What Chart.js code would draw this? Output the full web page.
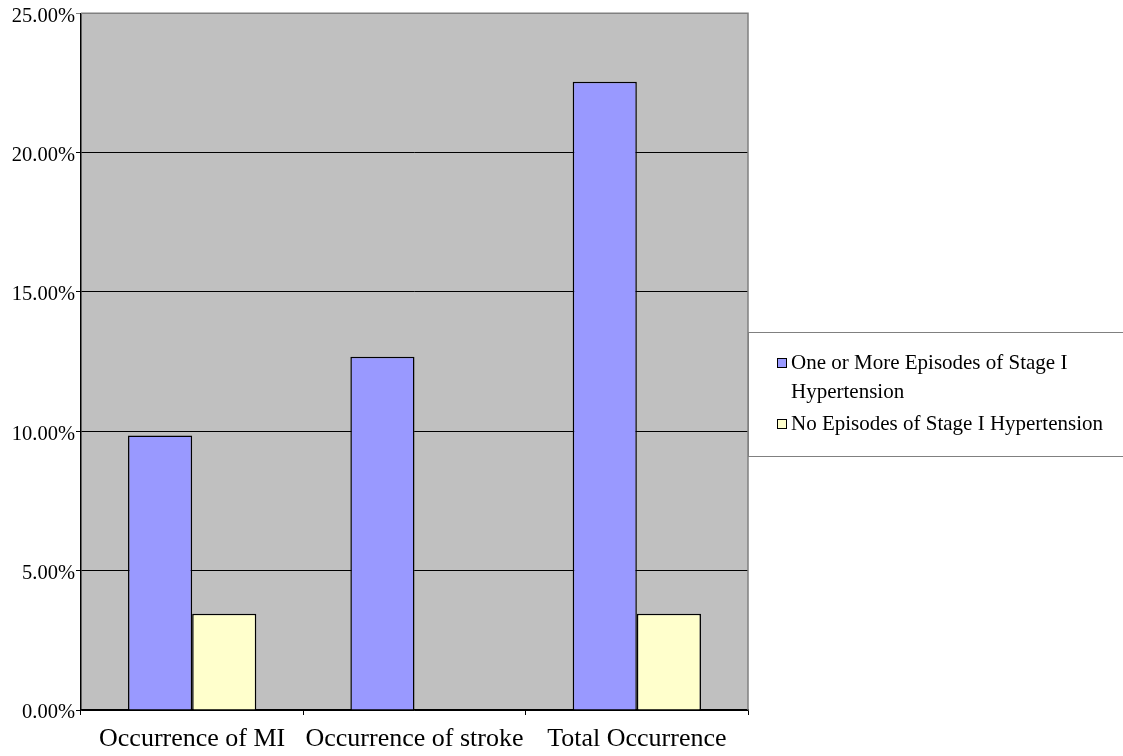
<!DOCTYPE html>
<html>
<head>
<meta charset="utf-8">
<script src="https://cdn.jsdelivr.net/npm/chart.js@4"></script>
<style>
  body { margin: 0; background: #fff; }
  #wrap { position: relative; width: 1123px; height: 756px; }
  #legend {
    position: absolute; left: 748px; top: 332px; width: 375px; height: 125px;
    border: 1px solid #808080; border-right: none; box-sizing: border-box;
    font-family: "Liberation Serif", "Times New Roman", serif; font-size: 21px; color: #000;
    padding-top: 15px;
  }
  .item { position: relative; padding-left: 42px; width: 325px; line-height: 29px; margin-bottom: 3px; }
  .box { position: absolute; left: 28px; top: 10px; width: 8px; height: 8px; border: 1px solid #000; }
</style>
</head>
<body>
<div id="wrap">
  <canvas id="chart"></canvas>
  <div id="legend"></div>
</div>
<script>
// chart data
const categories = ['Occurrence of MI', 'Occurrence of stroke', 'Total Occurrence'];
const seriesNames = ['One or More Episodes of Stage I Hypertension', 'No Episodes of Stage I Hypertension'];
const withEpisodes = [9.85, 12.68, 22.54];
const noEpisodes = [3.45, null, 3.45];
const yTicks = [0, 5, 10, 15, 20, 25];

const serif = '"Liberation Serif", "Times New Roman", serif';

// gray plot area + gray top/right border
const plotBg = {
    id: 'plotBg',
    beforeDraw(chart) {
        const { ctx, chartArea: a } = chart;
        ctx.save();
        ctx.fillStyle = '#C0C0C0';
        ctx.fillRect(a.left, a.top, a.right - a.left, a.bottom - a.top);
        ctx.restore();
    },
    afterDatasetsDraw(chart) {
        const { ctx, chartArea: a } = chart;
        ctx.save();
        ctx.strokeStyle = '#808080';
        ctx.lineWidth = 1.5;
        ctx.beginPath();
        ctx.moveTo(a.left, a.top);
        ctx.lineTo(a.right, a.top);
        ctx.lineTo(a.right, a.bottom);
        ctx.stroke();
        ctx.restore();
    }
};

const chart = new Chart(document.getElementById('chart'), {
    type: 'bar',
    data: {
        labels: categories,
        datasets: [{
            label: seriesNames[0],
            data: withEpisodes,
            backgroundColor: '#9999FF',
            borderColor: '#000',
            borderWidth: 1.5
        }, {
            label: seriesNames[1],
            data: noEpisodes,
            backgroundColor: '#FFFFCC',
            borderColor: '#000',
            borderWidth: 1.5
        }]
    },
    options: {
        responsive: true,
        maintainAspectRatio: false,
        animation: false,
        layout: { padding: { top: 12, right: 375, left: 0, bottom: 0 } },
        plugins: { legend: { display: false }, tooltip: { enabled: false } },
        datasets: { bar: { categoryPercentage: 0.577, barPercentage: 1 } },
        scales: {
            x: {
                grid: { display: true, drawOnChartArea: false, color: '#000', tickLength: 5, offset: true },
                border: { color: '#000', width: 1.5 },
                ticks: {
                    color: '#000', font: { family: serif, size: 26 }, padding: 9,
                    maxRotation: 0, autoSkip: false
                },
                afterFit(scale) { scale.height = 46; }
            },
            y: {
                min: 0,
                max: 25,
                afterBuildTicks(scale) { scale.ticks = yTicks.map(v => ({ value: v })); },
                grid: {
                    color: c => c.tick && c.tick.value === 25 ? '#808080' : '#000',
                    lineWidth: 1,
                    tickLength: 5
                },
                border: { color: '#000', width: 1.5 },
                ticks: {
                    color: '#000',
                    font: { family: serif, size: 20.5 },
                    padding: 1,
                    labelOffset: 3,
                    callback: v => v.toFixed(2) + '%'
                },
                afterFit(scale) { scale.width = 81; }
            }
        }
    },
    plugins: [plotBg]
});

// legend as html so the long label wraps like the original
const legend = document.getElementById('legend');
chart.data.datasets.forEach(ds => {
    const item = document.createElement('div');
    item.className = 'item';
    const box = document.createElement('span');
    box.className = 'box';
    box.style.background = ds.backgroundColor;
    item.appendChild(box);
    item.appendChild(document.createTextNode(ds.label));
    legend.appendChild(item);
});
</script>
</body>
</html>
